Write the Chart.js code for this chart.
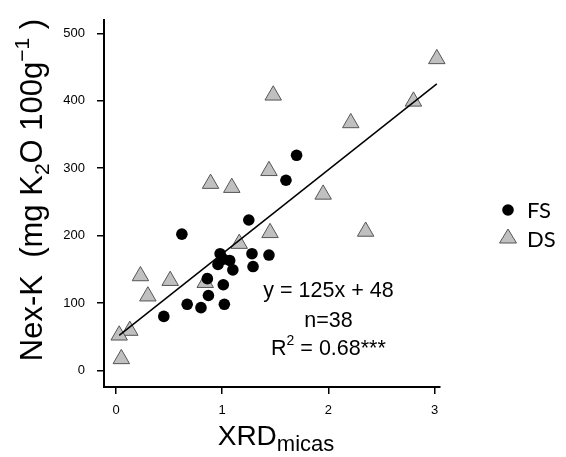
<!DOCTYPE html>
<html>
<head>
<meta charset="utf-8">
<script src="https://cdn.jsdelivr.net/npm/chart.js@4"></script>
<style>
  body { margin: 0; background: #fff; }
  #wrap { width: 566px; height: 457px; position: relative; }
</style>
</head>
<body>
<div id="wrap"><canvas id="myChart"></canvas></div>
<script>
// FS samples (black dots)
const fsX = [0.62, 0.45, 0.67, 0.80, 0.87, 0.86, 1.02, 1.01, 0.96, 0.98, 1.01, 1.07, 1.10, 1.25, 1.28, 1.29, 1.44, 1.60, 1.70];
const fsY = [202, 80, 98, 93, 111, 136, 98, 127, 157, 173, 165, 163, 149, 223, 173, 154, 171, 282, 319];
// DS samples (grey triangles)
const dsX = [3.02, 2.80, 1.48, 2.21, 1.44, 0.89, 1.09, 1.95, 1.45, 2.35, 1.16, 0.23, 0.51, 0.84, 0.30, 0.13, 0.03, 0.05];
const dsY = [462, 399, 408, 367, 296, 277, 271, 261, 204, 206, 188, 140, 133, 130, 110, 59, 52, 17];
// fitted line y = 125x + 48, ends
const fitX = [0.03, 3.02];
const fitY = [52, 425];

const xTicks = [0, 1, 2, 3];
const yTicks = [0, 100, 200, 300, 400, 500];

const FONT = 'Liberation Sans, Arial, sans-serif';

function toPoints(xs, ys) {
  return xs.map((x, i) => ({ x: x, y: ys[i] }));
}

// draw a run of text pieces (normal / sub / sup) centered on x
function drawRich(ctx, parts, x, y) {
  let total = 0;
  parts.forEach(p => {
    ctx.font = p.size + 'px ' + FONT;
    total += ctx.measureText(p.t).width;
  });
  let cx = x - total / 2;
  parts.forEach(p => {
    ctx.font = p.size + 'px ' + FONT;
    ctx.fillText(p.t, cx, y + (p.dy || 0));
    cx += ctx.measureText(p.t).width;
  });
}

const extras = {
  id: 'extras',
  afterDraw(chart) {
    const ctx = chart.ctx;
    const xs = chart.scales.x;
    const ys = chart.scales.y;
    ctx.save();
    ctx.fillStyle = '#000';
    ctx.textAlign = 'left';
    ctx.textBaseline = 'alphabetic';

    // y axis title (rotated)
    ctx.save();
    ctx.translate(42, 190);
    ctx.rotate(-Math.PI / 2);
    drawRich(ctx, [
      { t: 'Nex-K  (mg K', size: 31 },
      { t: '2', size: 21, dy: 7 },
      { t: 'O 100g', size: 31 },
      { t: '\u22121', size: 21, dy: -13 },
      { t: ' )', size: 31 }
    ], 0, 0);
    ctx.restore();

    // x axis title
    drawRich(ctx, [
      { t: 'XRD', size: 28 },
      { t: 'micas', size: 22, dy: 6 }
    ], 276, 445);

    // regression text
    const cx = xs.getPixelForValue(2.0);
    drawRich(ctx, [{ t: 'y = 125x + 48', size: 21.5 }], cx, ys.getPixelForValue(109));
    drawRich(ctx, [{ t: 'n=38', size: 21.5 }], cx, ys.getPixelForValue(64));
    drawRich(ctx, [
      { t: 'R', size: 21.5 },
      { t: '2', size: 14, dy: -10 },
      { t: ' = 0.68***', size: 21.5 }
    ], cx, ys.getPixelForValue(23));

    // legend
    ctx.fillStyle = '#000';
    ctx.beginPath();
    ctx.arc(508, 210, 5.8, 0, Math.PI * 2);
    ctx.fill();
    ctx.fillStyle = '#c0c0c0';
    ctx.strokeStyle = '#555';
    ctx.lineWidth = 1;
    ctx.beginPath();
    ctx.moveTo(508, 229);
    ctx.lineTo(516.5, 243);
    ctx.lineTo(499.5, 243);
    ctx.closePath();
    ctx.fill();
    ctx.stroke();
    ctx.fillStyle = '#000';
    ctx.font = '22px Lato, sans-serif';
    ctx.fillText('FS', 527, 218);
    ctx.fillText('DS', 527, 247);

    ctx.restore();
  }
};

const canvas = document.querySelector('#myChart');
const myChart = new Chart(canvas.getContext('2d'), {
  type: 'scatter',
  data: {
    datasets: [
      {
        label: 'fit',
        type: 'line',
        data: toPoints(fitX, fitY),
        borderColor: '#000',
        borderWidth: 1.5,
        pointRadius: 0,
        showLine: true,
        order: 0,
        clip: false
      },
      {
        label: 'FS',
        data: toPoints(fsX, fsY),
        pointStyle: 'circle',
        pointRadius: 5.8,
        backgroundColor: '#000',
        borderColor: '#000',
        borderWidth: 0,
        order: 1,
        clip: false
      },
      {
        label: 'DS',
        data: toPoints(dsX, dsY),
        pointStyle: 'triangle',
        pointRadius: 9.5,
        backgroundColor: '#c0c0c0',
        borderColor: '#555',
        borderWidth: 1,
        order: 2,
        clip: false
      }
    ]
  },
  options: {
    responsive: true,
    maintainAspectRatio: false,
    animation: false,
    devicePixelRatio: 1,
    layout: { padding: { left: 0, top: 18, right: 126, bottom: 0 } },
    plugins: {
      legend: { display: false },
      tooltip: { enabled: false }
    },
    scales: {
      x: {
        type: 'linear',
        min: -0.113,
        max: 3.05,
        afterFit: s => { s.height = 70; },
        afterBuildTicks: s => { s.ticks = xTicks.map(v => ({ value: v })); },
        grid: { display: true, drawOnChartArea: false, drawTicks: true, tickLength: 7, color: '#000', lineWidth: 1.5 },
        border: { display: true, color: '#000', width: 2 },
        ticks: { color: '#000', padding: 9, font: { family: FONT, size: 13 }, maxRotation: 0 }
      },
      y: {
        type: 'linear',
        min: -24.7,
        max: 520,
        afterFit: s => { s.width = 104; },
        afterBuildTicks: s => { s.ticks = yTicks.map(v => ({ value: v })); },
        grid: { display: true, drawOnChartArea: false, drawTicks: true, tickLength: 7, color: '#000', lineWidth: 1.5 },
        border: { display: true, color: '#000', width: 2 },
        ticks: { color: '#000', padding: 12, font: { family: FONT, size: 13 } }
      }
    }
  },
  plugins: [extras]
});
</script>
</body>
</html>
